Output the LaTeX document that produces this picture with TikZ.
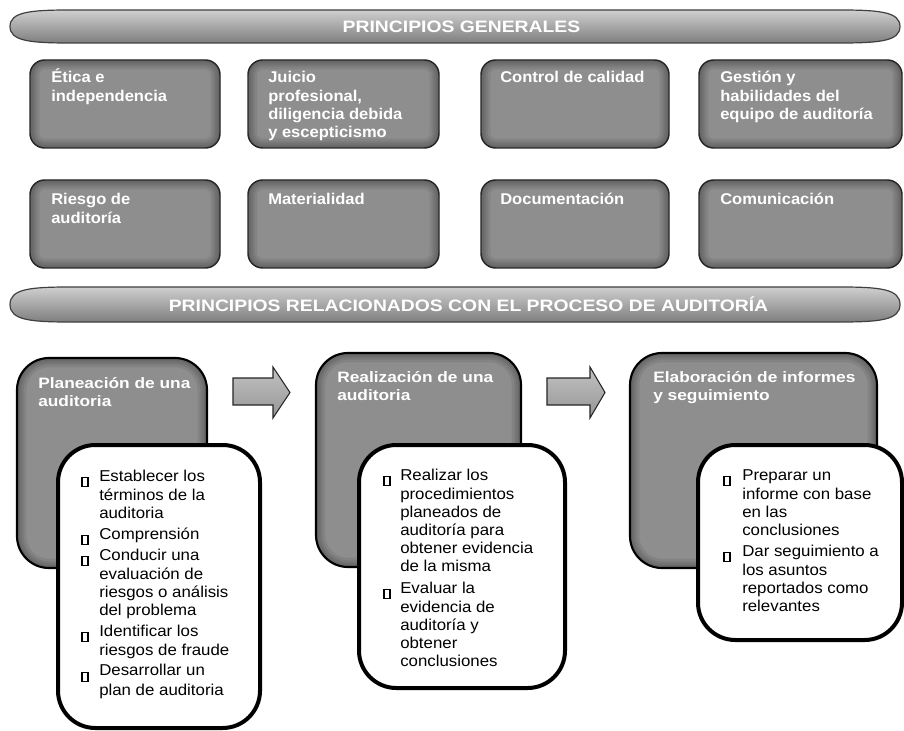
\documentclass[tikz,border=0pt]{standalone}
\usepackage{fontspec}
\setmainfont{Liberation Sans}
\newfontfamily\fbanner[FakeStretch=1.17]{Liberation Sans}
\newfontfamily\ftop[FakeStretch=1.06]{Liberation Sans}
\newfontfamily\ftitle[FakeStretch=1.15]{Liberation Sans}
\newfontfamily\fbody[FakeStretch=1.07]{Liberation Sans}
\definecolor{boxgray}{HTML}{8E8E8E}
\definecolor{bantop}{HTML}{CFCFCF}
\definecolor{banmid}{HTML}{B2B2B2}
\definecolor{banbot}{HTML}{7E7E7E}
\definecolor{arrtop}{HTML}{C2C2C2}
\definecolor{arrbot}{HTML}{959595}
\newcommand\bul{\raisebox{-4.8pt}{\vbox{\hrule height 1.3pt\hbox{\vrule width 1.3pt height 5.4pt\kern 3pt\vrule width 1.3pt}\hrule height 1.3pt}}}
\newcommand\bulA{\makebox[13.5pt][l]{\bul}}
\newcommand\bulB{\makebox[12.75pt][l]{\bul}}
\newcommand\bulC{\makebox[14.25pt][l]{\bul}}
\tikzset{
  inshadow/.style={path picture={
     \foreach \w in {14,10,7,4}{
       \draw[black,opacity=0.07,line width=\w pt,rounded corners=#1]
         (path picture bounding box.south west) rectangle (path picture bounding box.north east);}
  }},
  tbox/.style={rectangle, rounded corners=11pt, fill=boxgray, draw=black!85, line width=1.1pt, inner sep=0pt, outer sep=0pt, inshadow=11pt},
  gbox/.style={rectangle, rounded corners=24pt, fill=boxgray, draw=black, line width=1.6pt, inner sep=0pt, outer sep=0pt, inshadow=24pt},
  wbox/.style={rectangle, rounded corners=28pt, fill=white, draw=black, line width=3pt, inner sep=0pt, outer sep=0pt},
  bannershape/.style={top color=bantop, middle color=banmid, bottom color=banbot, draw=black!75, line width=0.9pt},
  bantext/.style={anchor=base, inner sep=0pt, text=white, font={\fbanner\bfseries\fontsize{12.4pt}{14pt}\selectfont}},
  toptext/.style={anchor=base west, inner sep=0pt, text=white, font={\ftop\bfseries\fontsize{11.7pt}{13.75pt}\selectfont}},
  gtitle/.style={anchor=base west, inner sep=0pt, text=white, font={\ftitle\bfseries\fontsize{11.3pt}{13.5pt}\selectfont}},
  bodytext/.style={anchor=base west, inner sep=0pt, text=black, font={\fbody\fontsize{11.8pt}{13.5pt}\selectfont}},
  blockarrow/.style={top color=arrtop, bottom color=arrbot, draw=black!85, line width=0.8pt, line join=miter}
}
\begin{document}
\begin{tikzpicture}[x=0.75pt,y=-0.75pt]
\useasboundingbox (0,0) rectangle (904,731);
\fill[white] (0,0) rectangle (904,731);

% banner 1
\shadedraw[bannershape] (10,26.5) .. controls (10,12) and (30,10) .. (70,10) -- (840,10)
   .. controls (880,10) and (900,12) .. (900,26.5) .. controls (900,41) and (880,43) .. (840,43)
   -- (70,43) .. controls (30,43) and (10,41) .. (10,26.5) -- cycle;
\node[bantext] (ban1) at (461.5,33) {PRINCIPIOS GENERALES};

% row 1
\node[tbox, minimum width=142.5pt, minimum height=66pt] (b11) at (125,104) {};
\node[tbox, minimum width=143.25pt, minimum height=66pt] (b12) at (343.5,104) {};
\node[tbox, minimum width=141pt, minimum height=66pt] (b13) at (575,104) {};
\node[tbox, minimum width=152.25pt, minimum height=66pt] (b14) at (800.5,104) {};
\node[toptext] (t11) at (51,83) {\begin{tabular}[t]{@{}l@{}}Ética e\\independencia\end{tabular}};
\node[toptext] (t12) at (268,83) {\begin{tabular}[t]{@{}l@{}}Juicio\\profesional,\\diligencia debida\\y escepticismo\end{tabular}};
\node[toptext] (t13) at (500,83) {\begin{tabular}[t]{@{}l@{}}Control de calidad\end{tabular}};
\node[toptext] (t14) at (720,83) {\begin{tabular}[t]{@{}l@{}}Gestión y\\habilidades del\\equipo de auditoría\end{tabular}};

% row 2
\node[tbox, minimum width=142.5pt, minimum height=66pt] (b21) at (125,224) {};
\node[tbox, minimum width=143.25pt, minimum height=66pt] (b22) at (343.5,224) {};
\node[tbox, minimum width=141pt, minimum height=66pt] (b23) at (575,224) {};
\node[tbox, minimum width=152.25pt, minimum height=66pt] (b24) at (800.5,224) {};
\node[toptext] (t21) at (51,205) {\begin{tabular}[t]{@{}l@{}}Riesgo de\\auditoría\end{tabular}};
\node[toptext] (t22) at (268,205) {\begin{tabular}[t]{@{}l@{}}Materialidad\end{tabular}};
\node[toptext] (t23) at (500,205) {\begin{tabular}[t]{@{}l@{}}Documentación\end{tabular}};
\node[toptext] (t24) at (720,205) {\begin{tabular}[t]{@{}l@{}}Comunicación\end{tabular}};

% banner 2
\shadedraw[bannershape] (10,304.5) .. controls (10,289) and (30,287) .. (70,287) -- (840,287)
   .. controls (880,287) and (900,289) .. (900,304.5) .. controls (900,320) and (880,322) .. (840,322)
   -- (70,322) .. controls (30,322) and (10,320) .. (10,304.5) -- cycle;
\node[bantext] (ban2) at (468.5,311) {PRINCIPIOS RELACIONADOS CON EL PROCESO DE AUDITORÍA};

% process gray boxes
\node[gbox, minimum width=142.5pt, minimum height=157.5pt] (g1) at (112,463) {};
\node[gbox, minimum width=153.75pt, minimum height=160.5pt] (g2) at (418.5,460) {};
\node[gbox, minimum width=185.25pt, minimum height=161.25pt] (g3) at (753.5,460.5) {};
\node[gtitle] (g1t) at (38,388) {\begin{tabular}[t]{@{}l@{}}Planeación de una\\auditoria\end{tabular}};
\node[gtitle] (g2t) at (337,382) {\begin{tabular}[t]{@{}l@{}}Realización de una\\auditoria\end{tabular}};
\node[gtitle] (g3t) at (653,382) {\begin{tabular}[t]{@{}l@{}}Elaboración de informes\\y seguimiento\end{tabular}};

% block arrows
\draw[blockarrow] (233,378) -- (273,378) -- (273,367) -- (290,392.5) -- (273,418) -- (273,405) -- (233,405) -- cycle;
\draw[blockarrow] (547,378) -- (590,378) -- (590,367) -- (605,392.5) -- (590,418) -- (590,405) -- (547,405) -- cycle;

% white boxes
\node[wbox, minimum width=151.5pt, minimum height=212.25pt] (w1) at (159,586.5) {};
\node[wbox, minimum width=154.5pt, minimum height=182.25pt] (w2) at (462,566.5) {};
\node[wbox, minimum width=153pt, minimum height=146.25pt] (w3) at (800,542.5) {};

\node[bodytext] (w1t) at (81,481) {\begin{tabular}[t]{@{}l@{}l@{}}
\bulA & Establecer los\\
 & términos de la\\
 & auditoria\\[2.25pt]
\bulA & Comprensión\\[2.25pt]
\bulA & Conducir una\\
 & evaluación de\\
 & riesgos o análisis\\
 & del problema\\[2.25pt]
\bulA & Identificar los\\
 & riesgos de fraude\\[2.25pt]
\bulA & Desarrollar un\\
 & plan de auditoria
\end{tabular}};

\node[bodytext] (w2t) at (383,480) {\begin{tabular}[t]{@{}l@{}l@{}}
\bulB & Realizar los\\
 & procedimientos\\
 & planeados de\\
 & auditoría para\\
 & obtener evidencia\\
 & de la misma\\[3pt]
\bulB & Evaluar la\\
 & evidencia de\\
 & auditoría y\\
 & obtener\\
 & conclusiones
\end{tabular}};

\node[bodytext] (w3t) at (723,480) {\begin{tabular}[t]{@{}l@{}l@{}}
\bulC & Preparar un\\
 & informe con base\\
 & en las\\
 & conclusiones\\[2.25pt]
\bulC & Dar seguimiento a\\
 & los asuntos\\
 & reportados como\\
 & relevantes
\end{tabular}};
\end{tikzpicture}
\end{document}
